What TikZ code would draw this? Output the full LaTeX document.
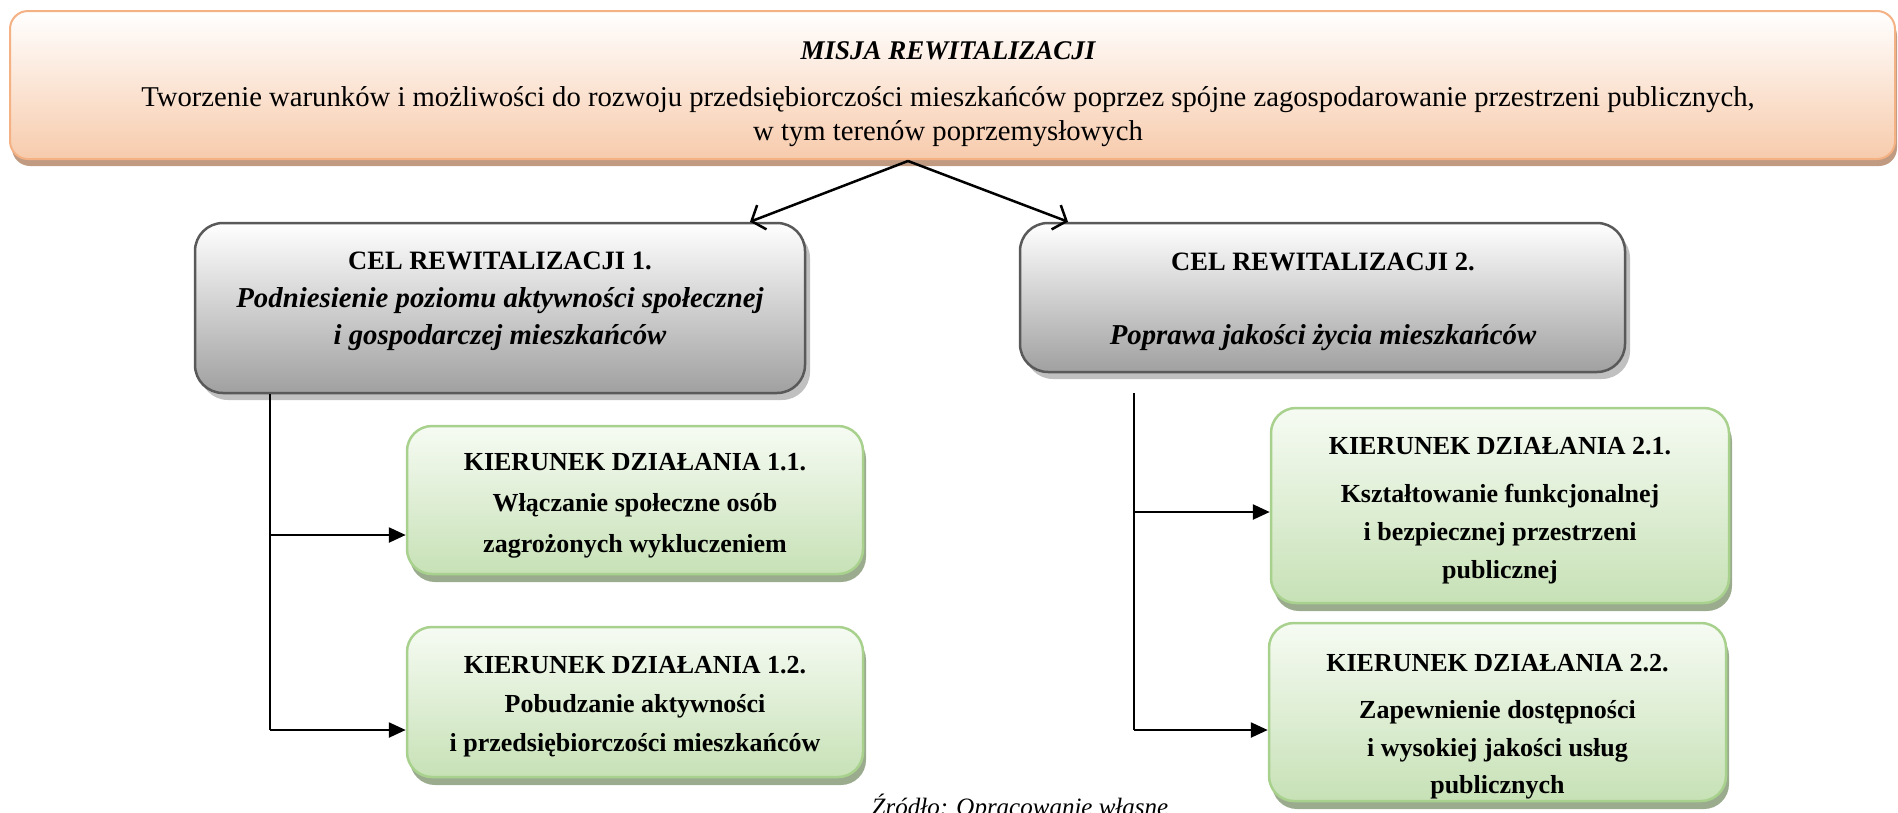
\documentclass[tikz,border=0pt]{standalone}
\usepackage{fontspec}
\setmainfont{Liberation Serif}
\usetikzlibrary{arrows.meta,shadows}
\definecolor{mborder}{RGB}{244,177,131}
\definecolor{mbot}{RGB}{247,203,172}
\definecolor{mmid}{RGB}{251,228,212}
\definecolor{mshadow}{RGB}{192,155,130}
\definecolor{cborder}{RGB}{89,89,89}
\definecolor{cbot}{RGB}{160,160,160}
\definecolor{cmid}{RGB}{205,205,205}
\definecolor{cshadow}{RGB}{192,192,192}
\definecolor{kborder}{RGB}{169,209,142}
\definecolor{ktop}{RGB}{246,251,243}
\definecolor{kbot}{RGB}{199,225,182}
\definecolor{kshadow}{RGB}{155,172,142}
\begin{document}
\begin{tikzpicture}[x=1pt,y=-1pt,
  mbox/.style={rectangle, draw=mborder, line width=2pt, rounded corners=18pt,
    top color=white, middle color=mmid, bottom color=mbot,
    drop shadow={shadow xshift=2pt, shadow yshift=-7pt, fill=mshadow, opacity=1}},
  cbox/.style={rectangle, draw=cborder, line width=2.5pt, rounded corners=28pt,
    top color=white, middle color=cmid, bottom color=cbot,
    drop shadow={shadow xshift=5pt, shadow yshift=-7pt, fill=cshadow, opacity=1}},
  kbox/.style={rectangle, draw=kborder, line width=2.5pt, rounded corners=25pt,
    top color=ktop, bottom color=kbot,
    drop shadow={shadow xshift=3pt, shadow yshift=-8pt, fill=kshadow, opacity=1}},
  txt/.style={inner sep=0pt, align=center, text=black},
  vline/.style={line width=1.8pt, draw=black},
  harrow/.style={line width=2.5pt, -{Triangle[length=17pt,width=15pt]}},
  barrow/.style={line width=2.5pt, -{Straight Barb[length=11pt,width=26pt]}}
]
\useasboundingbox (0,0) rectangle (1898,812);
\clip (0,0) rectangle (1898,812);

% mission box
\node[mbox, minimum width=1885pt, minimum height=148pt] (misja) at (952.5,85) {};
\node[txt, font=\fontsize{27}{34}\selectfont\bfseries\itshape] (mtitle) at (948,51) {MISJA REWITALIZACJI};
\node[txt, font=\fontsize{28.7}{34}\selectfont] (mtext) at (948,117)
  {Tworzenie warunków i możliwości do rozwoju przedsiębiorczości mieszkańców poprzez spójne zagospodarowanie przestrzeni publicznych,\\ w tym terenów poprzemysłowych};

% goal boxes
\node[cbox, minimum width=610pt, minimum height=170pt] (cel1) at (500,308) {};
\node[txt, font=\fontsize{26.5}{37.5}\selectfont\bfseries] (cel1t) at (500,301.5)
  {CEL REWITALIZACJI 1.\\ \fontsize{28.8}{37.5}\selectfont\itshape Podniesienie poziomu aktywności społecznej\\ \fontsize{28.8}{37.5}\selectfont\itshape i gospodarczej mieszkańców};

\node[cbox, minimum width=605pt, minimum height=149pt] (cel2) at (1322.5,297.5) {};
\node[txt, font=\fontsize{26.5}{37}\selectfont\bfseries] (cel2t) at (1323,301.5)
  {CEL REWITALIZACJI 2.\\[37pt] \fontsize{28.8}{37}\selectfont\itshape Poprawa jakości życia mieszkańców};

% direction boxes
\node[kbox, minimum width=456pt, minimum height=148pt] (kd11) at (635,500) {};
\node[txt, font=\fontsize{26}{41}\selectfont\bfseries] (kd11t) at (635,505.5)
  {KIERUNEK DZIAŁANIA 1.1.\\ Włączanie społeczne osób\\ zagrożonych wykluczeniem};

\node[kbox, minimum width=456pt, minimum height=150pt] (kd12) at (635,702) {};
\node[txt, font=\fontsize{26}{39}\selectfont\bfseries] (kd12t) at (635,706.5)
  {KIERUNEK DZIAŁANIA 1.2.\\ Pobudzanie aktywności\\ i przedsiębiorczości mieszkańców};

\node[kbox, minimum width=458pt, minimum height=195pt] (kd21) at (1500,505.5) {};
\node[txt, font=\fontsize{26}{38}\selectfont\bfseries] (kd21t) at (1500,510.5)
  {KIERUNEK DZIAŁANIA 2.1.\\[10pt] Kształtowanie funkcjonalnej\\ i bezpiecznej przestrzeni\\ publicznej};

\node[kbox, minimum width=457pt, minimum height=178pt] (kd22) at (1497.5,712) {};
\node[txt, font=\fontsize{26}{37.5}\selectfont\bfseries] (kd22t) at (1497.5,726.5)
  {KIERUNEK DZIAŁANIA 2.2.\\[10pt] Zapewnienie dostępności\\ i wysokiej jakości usług\\ publicznych};

% connectors from mission
\coordinate (msrc) at (908,161);
\draw[barrow] (msrc) -- (750,0 |- cel1.north);
\draw[barrow] (msrc) -- (1068,0 |- cel2.north);

% left branch
\coordinate (ltop) at (270,0 |- cel1.south);
\coordinate (l1) at (270,535);
\coordinate (l2) at (270,730);
\draw[vline] (ltop) -- (l2);
\draw[harrow] (l1) -- (l1 -| kd11.west);
\draw[harrow] (l2) -- (l2 -| kd12.west);

% right branch
\coordinate (rtop) at (1134,393);
\coordinate (r1) at (1134,512);
\coordinate (r2) at (1134,730);
\draw[vline] (rtop) -- (r2);
\draw[harrow] (r1) -- (r1 -| kd21.west);
\draw[harrow] (r2) -- (r2 -| kd22.west);

% source
\node[inner sep=0pt, anchor=base, font=\fontsize{25}{30}\selectfont\itshape] (zrodlo) at (1020,815) {Źródło: Opracowanie własne};
\end{tikzpicture}
\end{document}
